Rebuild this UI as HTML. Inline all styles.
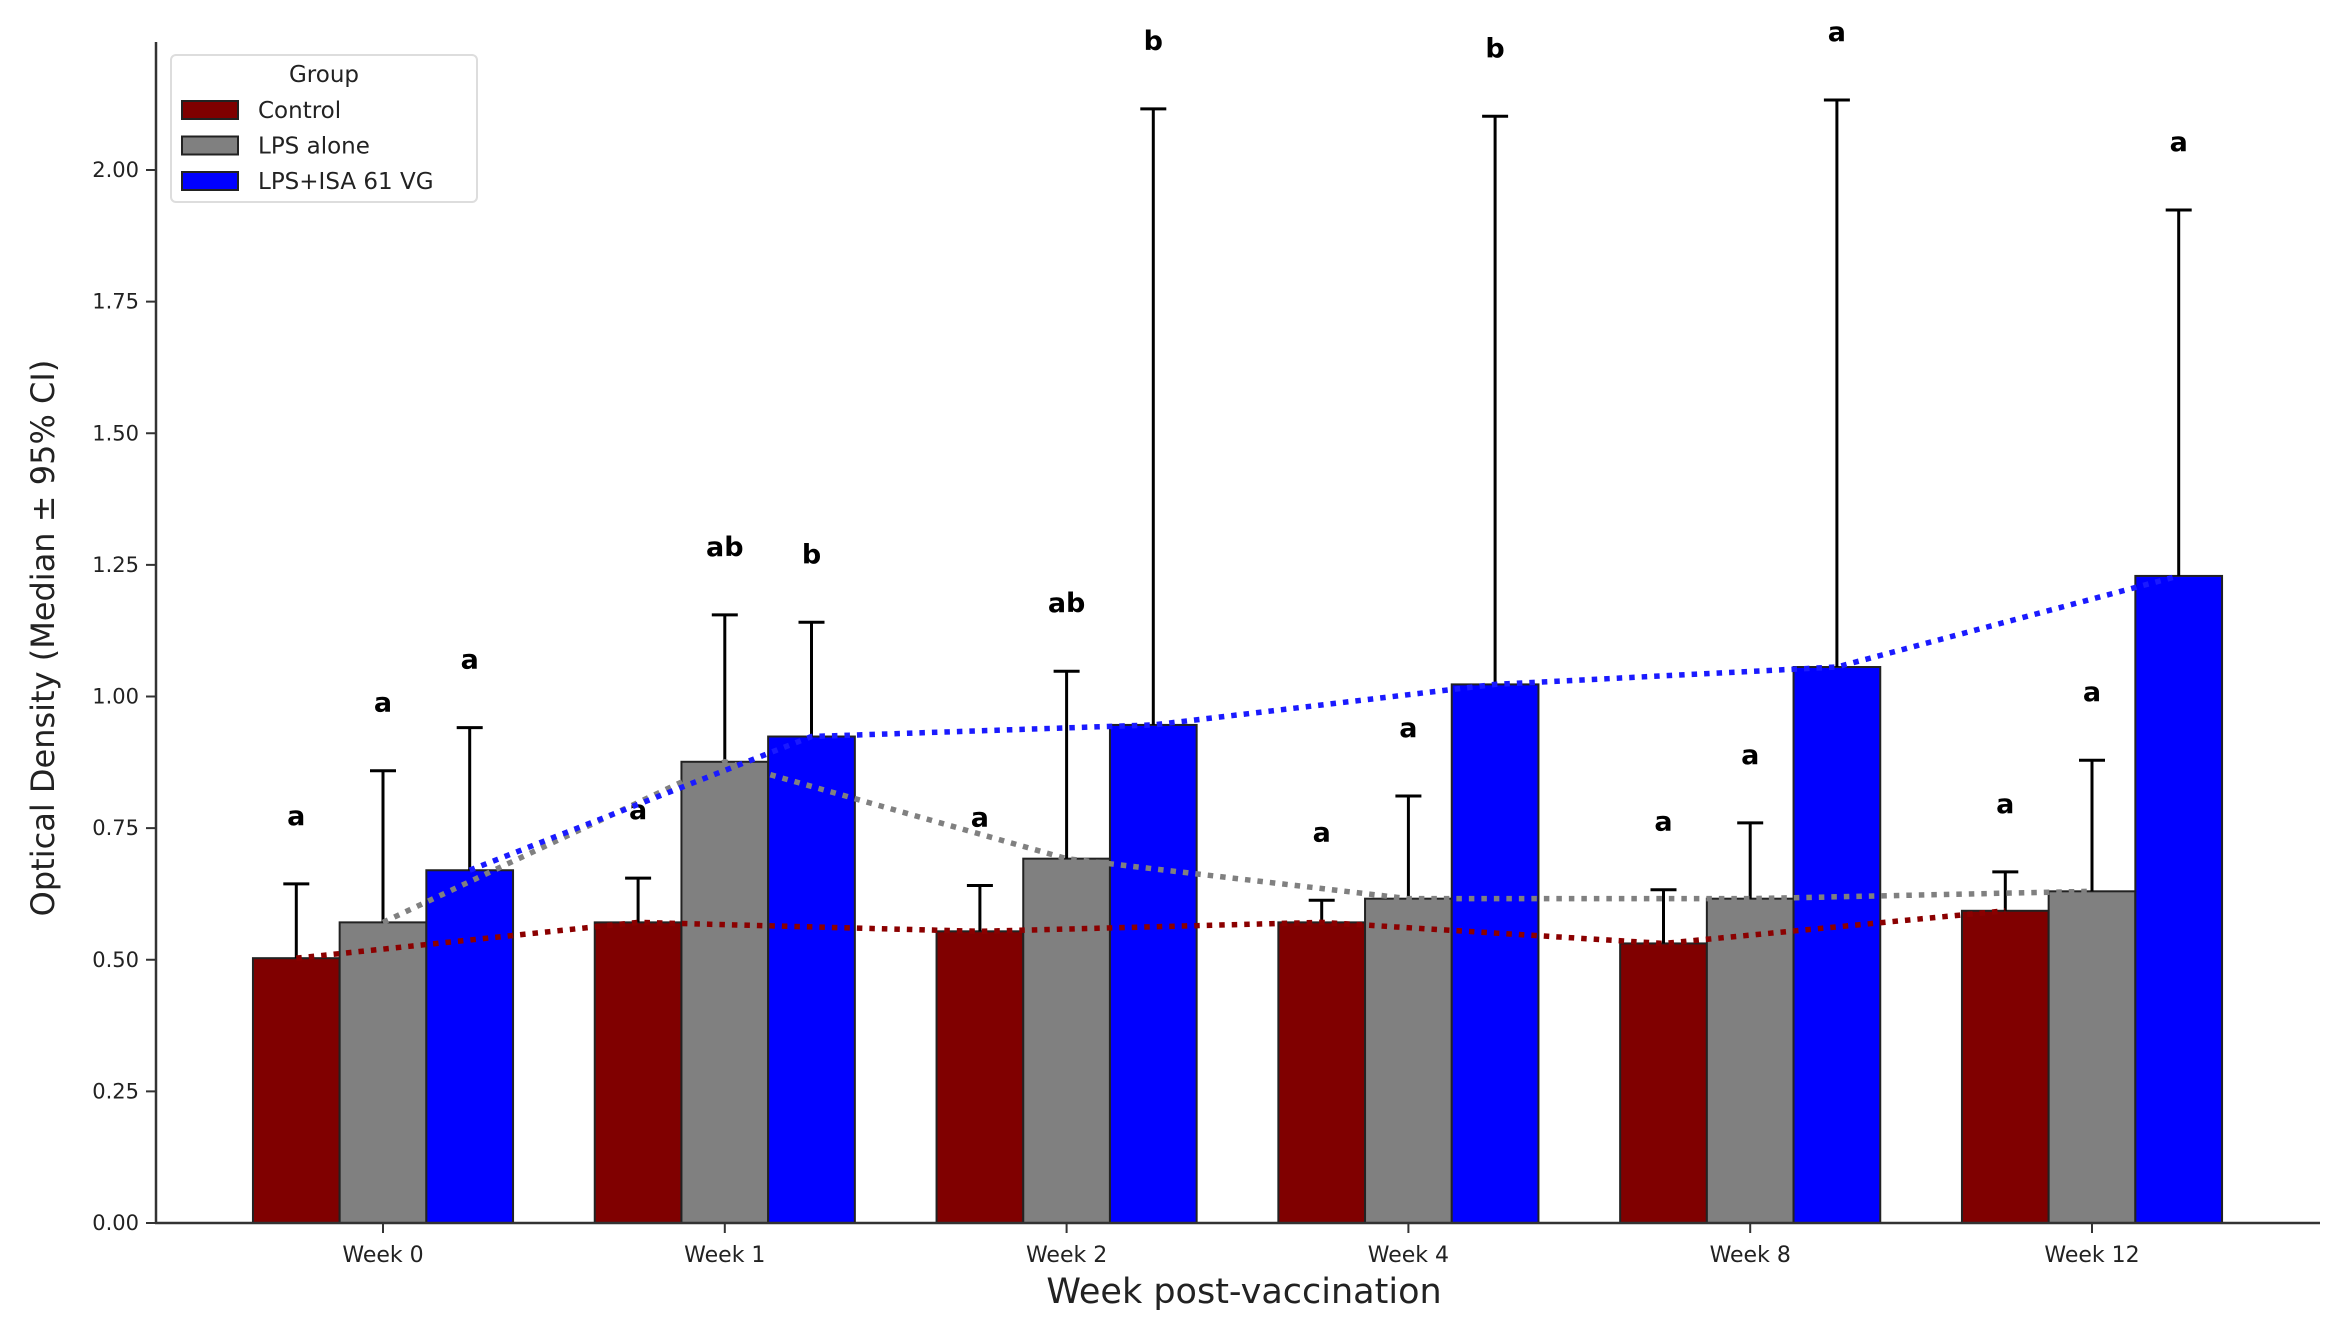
<!DOCTYPE html>
<html><head><meta charset="utf-8"><style>
html,body{margin:0;padding:0;background:#fff;}
svg{display:block;font-family:"DejaVu Sans","Liberation Sans",sans-serif;}
</style></head><body>
<svg id="chart" width="2333" height="1319" viewBox="0 0 2333 1319" xmlns="http://www.w3.org/2000/svg">
<g id="plot"></g>
</svg>
<script>
const categories = ["Week 0","Week 1","Week 2","Week 4","Week 8","Week 12"];
const groups = ["Control","LPS alone","LPS+ISA 61 VG"];
const controlValues = [0.503,0.571,0.554,0.571,0.531,0.593];
const lpsValues = [0.571,0.876,0.692,0.616,0.616,0.630];
const isaValues = [0.670,0.924,0.946,1.023,1.056,1.229];
const controlUpper = [0.644,0.655,0.641,0.613,0.633,0.667];
const lpsUpper = [0.859,1.155,1.048,0.811,0.760,0.879];
const isaUpper = [0.941,1.141,2.116,2.102,2.133,1.924];
const controlLetters = ["a","a","a","a","a","a"];
const lpsLetters = ["a","ab","ab","a","a","a"];
const isaLetters = ["a","b","b","b","a","a"];
const yTicks = [0,0.25,0.5,0.75,1.0,1.25,1.5,1.75,2.0];

const NS="http://www.w3.org/2000/svg";
const plot=document.getElementById('plot');
const colors=["#800000","#808080","#0000ff"];
const lineColors=["#8b0000","#808080","#1a1aff"];
const X0=383, DX=341.8, BW=86.7, Y0=1223, PU=526.5, AXL=156, AXR=2320, AXT=42;
const xC=i=>X0+i*DX;
const yS=v=>Y0-v*PU;
function mk(tag,attrs,parent){const e=document.createElementNS(NS,tag);for(const k in attrs)e.setAttribute(k,attrs[k]);(parent||plot).appendChild(e);return e;}

const series=[controlValues,lpsValues,isaValues];
const uppers=[controlUpper,lpsUpper,isaUpper];
const letters=[controlLetters,lpsLetters,isaLetters];

series.forEach((vals,g)=>{
  vals.forEach((v,i)=>{
    const cx=xC(i)+(g-1)*BW;
    const r=mk('rect',{x:cx-BW/2,y:yS(v),width:BW,height:Y0-yS(v),fill:colors[g],stroke:'#222','stroke-width':2});
    
    
  });
});
uppers.forEach((ups,g)=>{
  ups.forEach((u,i)=>{
    const cx=xC(i)+(g-1)*BW;
    const l=mk('line',{x1:cx,x2:cx,y1:yS(series[g][i]),y2:yS(u),stroke:'#000','stroke-width':3});
    
    
    const c=mk('line',{x1:cx-13,x2:cx+13,y1:yS(u),y2:yS(u),stroke:'#000','stroke-width':3});
    
    
    const t=mk('text',{x:cx,y:yS(u)-59,'text-anchor':'middle','font-size':27,'font-weight':'bold',fill:'#000'});
    t.textContent=letters[g][i];
    
    
  });
});
series.forEach((vals,g)=>{
  const pts=vals.map((v,i)=>(xC(i)+(g-1)*BW)+','+yS(v)).join(' ');
  const p=mk('polyline',{points:pts,fill:'none',stroke:lineColors[g],'stroke-width':5.5,'stroke-dasharray':'5.5 7','stroke-linecap':'butt'});
  
  
});
const ya=mk('line',{x1:AXL,x2:AXL,y1:AXT,y2:Y0+1,stroke:'#333','stroke-width':2.5});


const xa=mk('line',{x1:AXL-1,x2:AXR,y1:Y0,y2:Y0,stroke:'#333','stroke-width':2.5});


yTicks.forEach(v=>{
  const tk=mk('line',{x1:AXL-10,x2:AXL,y1:yS(v),y2:yS(v),stroke:'#333','stroke-width':2});
  
  
  const t=mk('text',{x:AXL-17,y:yS(v)+7,'text-anchor':'end','font-size':21,fill:'#222'});
  t.textContent=v.toFixed(2);
  
  
});
categories.forEach((c,i)=>{
  const tk=mk('line',{x1:xC(i),x2:xC(i),y1:Y0,y2:Y0+10,stroke:'#333','stroke-width':2});
  
  
  const t=mk('text',{x:xC(i),y:Y0+39,'text-anchor':'middle','font-size':22,fill:'#222'});
  t.textContent=c;
  
  
});
const xl=mk('text',{x:1244,y:1303,'text-anchor':'middle','font-size':35,fill:'#222'});
xl.textContent='Week post-vaccination';


const yl=mk('text',{x:0,y:0,'text-anchor':'middle','font-size':32,fill:'#222',transform:'translate(54,638) rotate(-90)'});
yl.textContent='Optical Density (Median ± 95% CI)';


const lg=mk('g',{});


const lb=mk('rect',{x:171,y:55,width:306,height:147,rx:5,fill:'#fff',stroke:'#ddd','stroke-width':2},lg);


const lt=mk('text',{x:324,y:82,'text-anchor':'middle','font-size':23,fill:'#222'},lg);
lt.textContent='Group';


groups.forEach((g,k)=>{
  const yy=110+k*35.5;
  const pr=mk('rect',{x:182,y:yy-9,width:56,height:18,fill:colors[k],stroke:'#222','stroke-width':2},lg);
  
  
  const tx=mk('text',{x:258,y:yy+8,'font-size':23,fill:'#222'},lg);
  tx.textContent=g;
  
  
});
</script>
</body></html>
